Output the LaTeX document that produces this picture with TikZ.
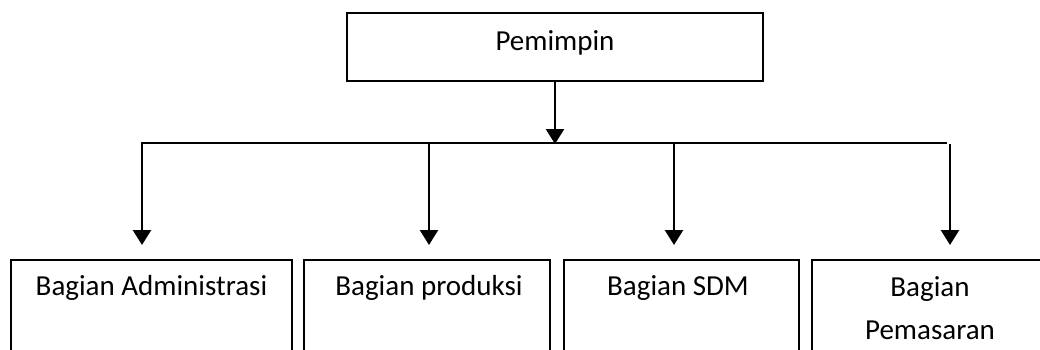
\documentclass[tikz,border=0pt]{standalone}
\usepackage{fontspec}
\setmainfont{Carlito}
\usetikzlibrary{arrows.meta}
\begin{document}
\begin{tikzpicture}[x=1pt,y=1pt,
  box/.style={draw=black,line width=1.6pt,rectangle,inner sep=0pt},
  lbl/.style={font=\fontsize{29}{43}\selectfont,align=center,inner sep=0pt},
  bus/.style={line width=2.4pt},
  arr/.style={line width=2.4pt,-{Triangle[width=18pt,length=15pt]}}]
  % page area; the lower boxes run past the bottom and right edges
  \clip (0,0) rectangle (1040,-349);
  \fill[white] (0,0) rectangle (1040,-349);

  % head box
  \node[box,minimum width=416pt,minimum height=68pt] (head) at (555,-47) {};
  \node[lbl] (headtxt) at (555,-43) {Pemimpin};

  % department boxes (open at the bottom edge of the page)
  \node[box,anchor=north,minimum width=281pt,minimum height=140pt] (b1) at (151.5,-259) {};
  \node[box,anchor=north,minimum width=246pt,minimum height=140pt] (b2) at (427,-259) {};
  \node[box,anchor=north,minimum width=235pt,minimum height=140pt] (b3) at (681.5,-259) {};
  \node[box,anchor=north,minimum width=236pt,minimum height=140pt] (b4) at (930,-259) {};

  \node[lbl] (t1) at (151.5,-288) {Bagian Administrasi};
  \node[lbl] (t2) at (429,-288) {Bagian produksi};
  \node[lbl] (t3) at (678,-288) {Bagian SDM};
  \node[lbl,anchor=north] (t4) at (930,-276) {Bagian\\Pemasaran};

  % distribution bus
  \coordinate (j) at (555,-143);
  \coordinate (d1) at (142,-143);
  \coordinate (d2) at (429,-143);
  \coordinate (d3) at (674,-143);
  \coordinate (d4) at (950,-144);
  \coordinate (busend) at (947,-143);

  \draw[arr,shorten >=-1pt] (head.south) -- (j);
  \draw[bus] ([xshift=-1.2pt]d1) -- (busend);

  \draw[arr,shorten >=14pt] ([yshift=1.2pt]d1) -- (d1 |- b1.north);
  \draw[arr,shorten >=14pt] (d2) -- (d2 |- b2.north);
  \draw[arr,shorten >=14pt] (d3) -- (d3 |- b3.north);
  \draw[arr,shorten >=14pt] (d4) -- (d4 |- b4.north);
\end{tikzpicture}
\end{document}
